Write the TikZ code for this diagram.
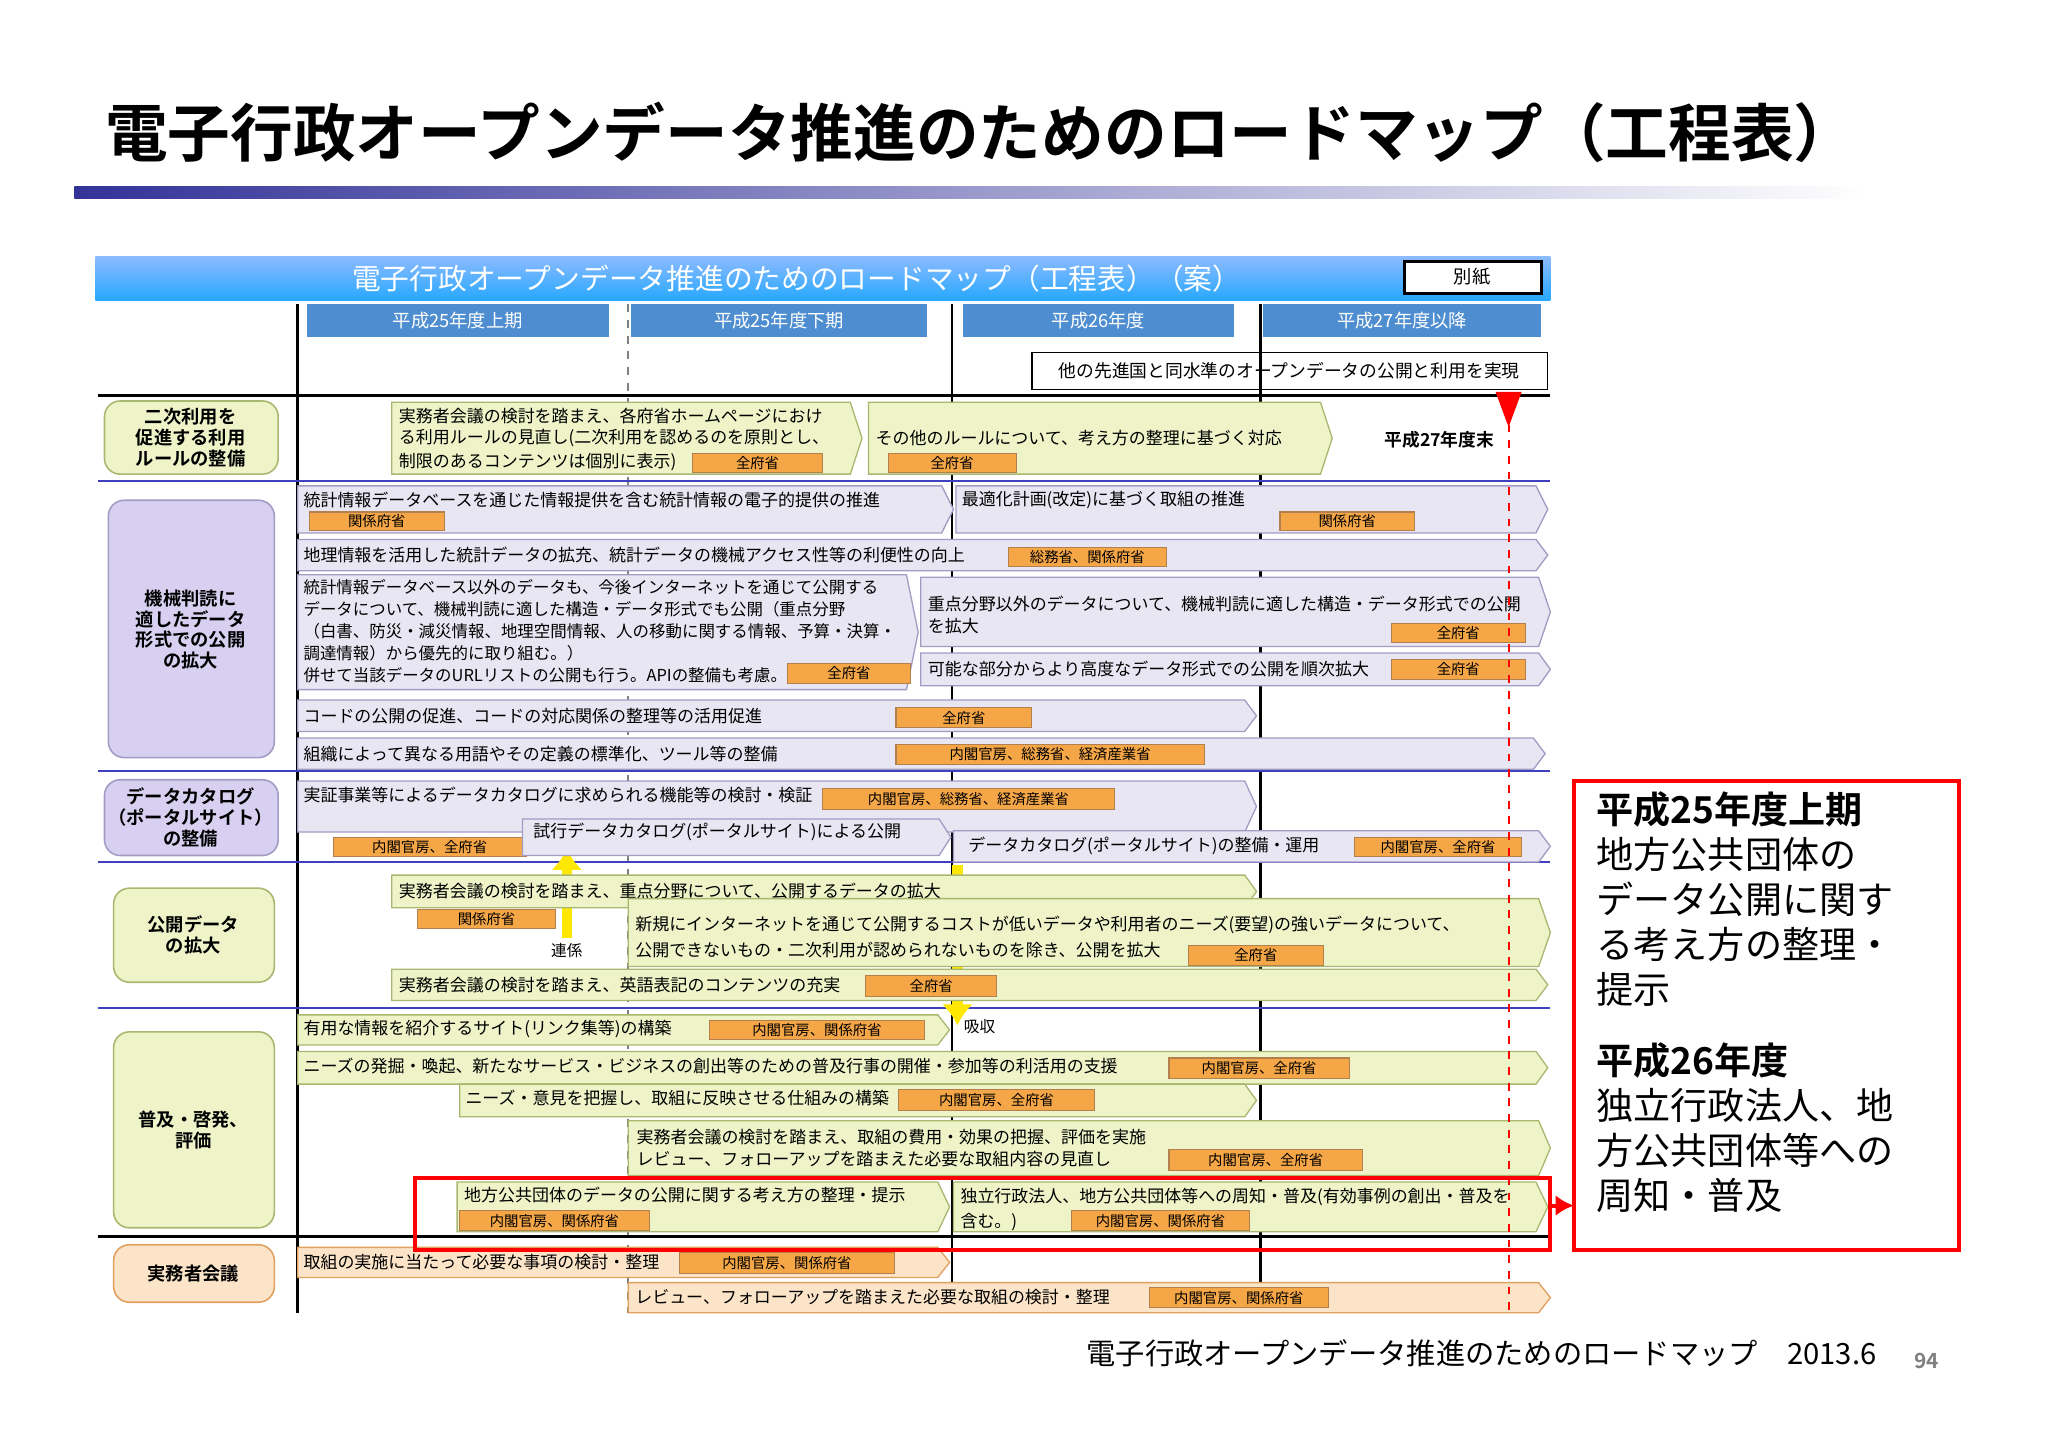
\documentclass[tikz,border=0pt]{standalone}
\usepackage{fontspec}
\setmainfont{Noto Sans CJK JP}
\newfontfamily\jpb{Noto Sans CJK JP}[BoldFont={Noto Sans CJK JP Bold}]
\usetikzlibrary{calc,arrows.meta}
\definecolor{grf}{HTML}{EEF3C8}\definecolor{grd}{HTML}{A8B870}
\definecolor{puf}{HTML}{E8E6F2}\definecolor{pud}{HTML}{A29CC4}
\definecolor{pcat}{HTML}{D8D0F0}
\definecolor{orf}{HTML}{FCE4C8}\definecolor{ord}{HTML}{E0A060}
\definecolor{tagf}{HTML}{F5A646}\definecolor{hdr}{HTML}{4E8ED0}
\newcommand\fs[1]{\fontsize{#1}{#1}\selectfont}
\tikzset{
 txt/.style={anchor=west,inner sep=0pt,font=\fs{6.5},align=left},
 tagt/.style={inner sep=0pt,font=\fs{5.5}},
 cat/.style={rounded corners=6pt,line width=0.6pt},
}
\newcommand\arrw[5]{\path[#5,line width=0.5pt] (#1,#2) -- ({#3-9},#2) -- (#3,{(#2+#4)/2}) -- ({#3-9},#4) -- (#1,#4) -- cycle;}
\newcommand\tagb[5]{\draw[fill=tagf,draw=ord!80!black,line width=0.4pt] (#1,#2) rectangle (#3,#4); \node[tagt] at ({(#1+#3)/2},{(#2+#4)/2}) {#5};}
\begin{document}
\begin{tikzpicture}[x=0.5pt,y=-0.5pt]
\useasboundingbox[fill=white] (0,0) rectangle (1568,1109);
% title
\node[anchor=west,inner sep=0pt,font=\jpb\bfseries\fs{24}] (title) at (80,101) {電子行政オープンデータ推進のためのロードマップ（工程表）};
\shade[left color=blue!50!black!80, right color=white] (57,143) rectangle (1430,152);
% header
\shade[top color=cyan!40!blue!45, bottom color=cyan!60!blue!85] (73,196) rectangle (1187,230);
\node[font=\fs{11},text=white,inner sep=0pt] (hd) at (610,213) {電子行政オープンデータ推進のためのロードマップ（工程表）（案）};
\draw[fill=white,line width=1.2pt] (1075,200) rectangle (1180,225);
\node[font=\fs{7},inner sep=0pt] (bs) at (1127,212) {別紙};
% periods
\foreach \a/\b/\t in {235/466/平成25年度上期,483/710/平成25年度下期,737/945/平成26年度,967/1180/平成27年度以降}
 {\fill[hdr] (\a,233) rectangle (\b,258); \node[font=\fs{7},text=white,inner sep=0pt] at ({(\a+\b)/2},245.5) {\t};}
\draw[line width=0.5pt] (790,270) rectangle (1185,298);
\node[font=\fs{6.8},inner sep=0pt] (goal) at (987,284) {他の先進国と同水準のオープンデータの公開と利用を実現};
% grid
\draw[line width=1pt] (228,233) -- (228,1005);
\draw[line width=1pt] (729,233) -- (729,1005);
\draw[line width=1pt] (965,233) -- (965,1005);
\draw[gray,dashed,line width=0.6pt] (481,233) -- (481,1005);
\draw[line width=1.2pt] (75,303) -- (1187,303);
\draw[line width=1.2pt] (75,947) -- (1187,947);
\foreach \yy in {368,590,660,772} \draw[blue!50!gray,line width=0.8pt] (75,\yy) -- (1187,\yy);
% yellow arrows (behind rows)
\draw[yellow!90!orange,line width=4pt,-{Latex[length=8pt,width=12pt]}] (434,718) -- (434,650);
\draw[yellow!90!orange,line width=4pt,-{Latex[length=8pt,width=12pt]}] (733,662) -- (733,785);
% categories
\tikzset{catt/.style={font=\jpb\bfseries\fs{7},align=center,inner sep=0pt}}
\draw[cat,fill=grf,draw=grd] (80,307) rectangle (213,363); \node[catt] at (146,335) {二次利用を\\[1pt]促進する利用\\[1pt]ルールの整備};
\draw[cat,fill=pcat,draw=pud] (83,383) rectangle (210,580); \node[catt] at (146,482) {機械判読に\\[1pt]適したデータ\\[1pt]形式での公開\\[1pt]の拡大};
\draw[cat,fill=pcat,draw=pud] (80,597) rectangle (213,655); \node[catt] at (146,626) {データカタログ\\[1pt]（ポータルサイト）\\[1pt]の整備};
\draw[cat,fill=grf,draw=grd] (87,680) rectangle (210,752); \node[catt] at (148,716) {公開データ\\[1pt]の拡大};
\draw[cat,fill=grf,draw=grd] (87,790) rectangle (210,940); \node[catt] at (148,865) {普及・啓発、\\[1pt]評価};
\draw[cat,fill=orf,draw=ord] (87,953) rectangle (210,997); \node[catt] at (148,975) {実務者会議};
% row 1
\arrw{300}{308}{660}{363}{fill=grf,draw=grd}
\node[txt,anchor=north west] at (305,312) {\fs{6.5}実務者会議の検討を踏まえ、各府省ホームページにおけ\\[1.5pt]る利用ルールの見直し(二次利用を認めるのを原則とし、\\[1.5pt]制限のあるコンテンツは個別に表示)};
\tagb{530}{347}{630}{362}{全府省}
\arrw{665}{308}{1020}{363}{fill=grf,draw=grd}
\node[txt] at (670,335) {その他のルールについて、考え方の整理に基づく対応};
\tagb{680}{347}{778}{362}{全府省}
\node[font=\jpb\bfseries\fs{6.8},inner sep=0pt] (h27) at (1102,337) {平成27年度末};
\fill[red] (1145,300) -- (1165,300) -- (1155,327) -- cycle;
% purple rows
\tikzset{pu/.style={fill=puf,draw=pud}}
\arrw{228}{372}{730}{408}{pu} \node[txt] at (232,383) {統計情報データベースを通じた情報提供を含む統計情報の電子的提供の推進}; \tagb{237}{392}{340}{406}{関係府省}
\arrw{732}{372}{1185}{408}{pu} \node[txt] at (736,383) {最適化計画(改定)に基づく取組の推進}; \tagb{980}{392}{1083}{406}{関係府省}
\arrw{228}{413}{1185}{437}{pu} \node[txt] at (232,425) {地理情報を活用した統計データの拡充、統計データの機械アクセス性等の利便性の向上}; \tagb{772}{419}{893}{434}{総務省、関係府省}
\arrw{228}{440}{703}{528}{pu}
\node[txt,anchor=north west,font=\fs{6.3}] at (232,443) {統計情報データベース以外のデータも、今後インターネットを通じて公開する\\[2.2pt]データについて、機械判読に適した構造・データ形式でも公開（重点分野\\[2.2pt]（白書、防災・減災情報、地理空間情報、人の移動に関する情報、予算・決算・\\[2.2pt]調達情報）から優先的に取り組む。）\\[2.2pt]併せて当該データのURLリストの公開も行う。APIの整備も考慮。};
\tagb{603}{508}{697}{523}{全府省}
\arrw{705}{442}{1187}{495}{pu} \node[txt,anchor=north west] at (710,456) {重点分野以外のデータについて、機械判読に適した構造・データ形式での公開\\[2pt]を拡大}; \tagb{1065}{477}{1168}{492}{全府省}
\arrw{705}{500}{1187}{525}{pu} \node[txt] at (710,512) {可能な部分からより高度なデータ形式での公開を順次拡大}; \tagb{1065}{505}{1168}{520}{全府省}
\arrw{228}{536}{962}{560}{pu} \node[txt] at (232,548) {コードの公開の促進、コードの対応関係の整理等の活用促進}; \tagb{686}{542}{790}{557}{全府省}
\arrw{228}{565}{1183}{589}{pu} \node[txt] at (232,577) {組織によって異なる用語やその定義の標準化、ツール等の整備}; \tagb{686}{570}{922}{585}{内閣官房、総務省、経済産業省}
% data catalog
\arrw{228}{598}{962}{637}{pu} \node[txt] at (232,609) {実証事業等によるデータカタログに求められる機能等の検討・検証}; \tagb{630}{604}{853}{620}{内閣官房、総務省、経済産業省}
\tagb{255}{641}{403}{656}{内閣官房、全府省}
\arrw{400}{627}{728}{655}{pu} \node[txt] at (408,637) {試行データカタログ(ポータルサイト)による公開};
\arrw{730}{636}{1187}{660}{pu} \node[txt] at (741,648) {データカタログ(ポータルサイト)の整備・運用}; \tagb{1037}{641}{1165}{656}{内閣官房、全府省}
% public data
\tikzset{gr/.style={fill=grf,draw=grd}}
\arrw{300}{670}{962}{695}{gr} \node[txt] at (305,682) {実務者会議の検討を踏まえ、重点分野について、公開するデータの拡大}; \tagb{320}{696}{425}{711}{関係府省}
\arrw{481}{688}{1187}{740}{gr} \node[txt,anchor=north west] at (486,701) {新規にインターネットを通じて公開するコストが低いデータや利用者のニーズ(要望)の強いデータについて、\\[2pt]公開できないもの・二次利用が認められないものを除き、公開を拡大}; \tagb{910}{724}{1013}{739}{全府省}
\arrw{300}{742}{1185}{766}{gr} \node[txt] at (305,754) {実務者会議の検討を踏まえ、英語表記のコンテンツの充実}; \tagb{663}{747}{763}{763}{全府省}
\node[font=\fs{6},inner sep=0pt] (rk) at (434,728) {連係};
\node[font=\fs{6},inner sep=0pt] (kk) at (750,786) {吸収};
% 普及
\arrw{228}{777}{727}{800}{gr} \node[txt] at (232,788) {有用な情報を紹介するサイト(リンク集等)の構築}; \tagb{543}{781}{708}{796}{内閣官房、関係府省}
\arrw{228}{805}{1185}{830}{gr} \node[txt] at (232,816) {ニーズの発掘・喚起、新たなサービス・ビジネスの創出等のための普及行事の開催・参加等の利活用の支援}; \tagb{895}{810}{1033}{826}{内閣官房、全府省}
\arrw{352}{830}{962}{855}{gr} \node[txt] at (356,841) {ニーズ・意見を把握し、取組に反映させる仕組みの構築}; \tagb{688}{834}{838}{850}{内閣官房、全府省}
\arrw{481}{858}{1187}{900}{gr} \node[txt,anchor=north west] at (487,864) {実務者会議の検討を踏まえ、取組の費用・効果の把握、評価を実施\\[2pt]レビュー、フォローアップを踏まえた必要な取組内容の見直し}; \tagb{895}{880}{1043}{896}{内閣官房、全府省}
\arrw{350}{905}{727}{943}{gr} \node[txt] at (355,915) {地方公共団体のデータの公開に関する考え方の整理・提示}; \tagb{352}{927}{497}{942}{内閣官房、関係府省}
\arrw{730}{905}{1185}{943}{gr} \node[txt,anchor=north west] at (735,909) {独立行政法人、地方公共団体等への周知・普及(有効事例の創出・普及を\\[2pt]含む。)}; \tagb{820}{927}{957}{942}{内閣官房、関係府省}
% 実務者会議
\tikzset{orr/.style={fill=orf,draw=ord}}
\arrw{228}{955}{727}{978}{orr} \node[txt] at (232,966) {取組の実施に当たって必要な事項の検討・整理}; \tagb{520}{959}{685}{975}{内閣官房、関係府省}
\arrw{481}{982}{1187}{1005}{orr} \node[txt] at (486,993) {レビュー、フォローアップを踏まえた必要な取組の検討・整理}; \tagb{880}{986}{1017}{1001}{内閣官房、関係府省}
% red dashed
\draw[red,dashed,line width=0.8pt] (1155,325) -- (1155,1005);
% highlight
\draw[red,line width=1.6pt] (318,902) rectangle (1187,957);
\coordinate (hl) at (1187,923);
\draw[red,line width=1.5pt,-{Latex[length=7pt,width=8pt]}] (hl) -- (1205,923);
\draw[red,line width=1.5pt] (1205,598) rectangle (1500,957);
\node[anchor=north west,align=left,inner sep=0pt,font=\jpb\fs{14.2}] (note) at (1222,606) {\textbf{平成25年度上期}\\[3pt]地方公共団体の\\[3pt]データ公開に関す\\[3pt]る考え方の整理・\\[3pt]提示\\[13pt]\textbf{平成26年度}\\[3pt]独立行政法人、地\\[3pt]方公共団体等への\\[3pt]周知・普及};
% footer
\node[anchor=east,inner sep=0pt,font=\fs{11.2}] (ft) at (1437,1036) {電子行政オープンデータ推進のためのロードマップ　2013.6};
\node[inner sep=0pt,font=\jpb\bfseries\fs{8},text=gray] (pg) at (1475,1042) {94};
\end{tikzpicture}
\end{document}
